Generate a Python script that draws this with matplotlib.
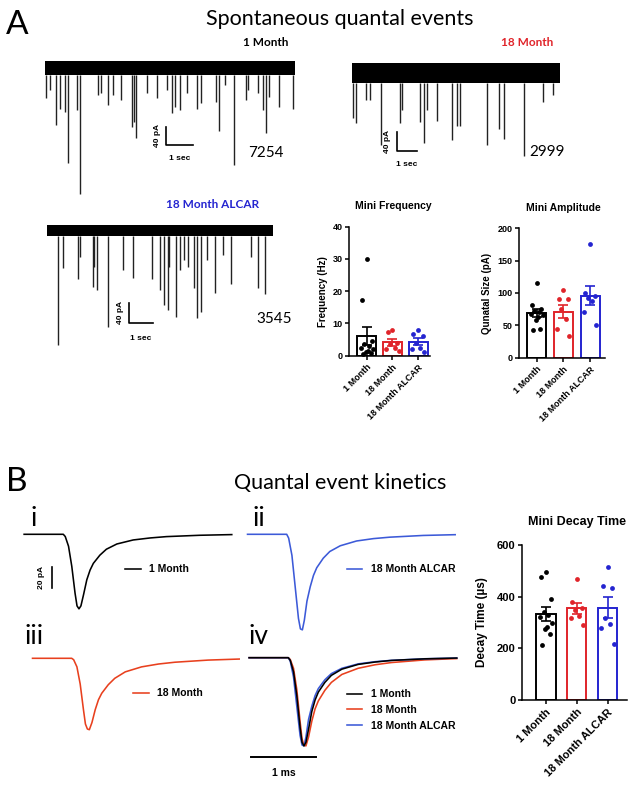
import numpy as np
import matplotlib
matplotlib.use('Agg')
import matplotlib.pyplot as plt

W, H = 643, 787
RED = '#e0242a'
BLUE = '#2424d0'
TRACE_RED = '#e8401e'
TRACE_BLUE = '#3c5ad8'
HEAD = 'Lato'
ARIAL = 'Liberation Sans'

GROUPS = ['1 Month', '18 Month', '18 Month ALCAR']
COLORS = ['black', RED, BLUE]

# spontaneous recordings: event times (s) and amplitudes (pA)
T1_TIMES = [0.04, 0.19, 0.43, 0.56, 0.74, 0.85, 1.2, 1.30, 1.99, 2.10, 2.35, 2.53, 2.83, 3.25,
            3.33, 3.42, 3.83, 4.19, 4.57, 4.75, 4.88, 5.06, 5.31, 5.69, 5.83, 6.42, 6.51, 6.73,
            7.07, 7.53, 7.62, 7.96, 8.15, 8.27, 8.40, 8.77, 9.29]
T1_AMPS = [67, 49, 127, 90, 97, 212, 93, 281, 60, 56, 82, 60, 71, 130, 119, 156, 56, 67, 49,
           101, 86, 93, 56, 90, 78, 75, 141, 38, 216, 71, 49, 56, 93, 145, 64, 86, 91]
T2_TIMES = [0.06, 0.18, 0.68, 0.87, 1.41, 2.33, 2.41, 3.30, 3.50, 3.63, 4.11, 4.87, 5.08, 5.24,
            6.57, 7.15, 7.38, 8.35, 9.26, 9.77]
T2_AMPS = [95, 104, 56, 56, 151, 104, 77, 102, 147, 77, 100, 140, 112, 112, 150, 118, 139,
           174, 60, 46]
T3_TIMES = [0.47, 0.71, 1.36, 1.43, 1.97, 2.03, 2.15, 2.64, 3.26, 3.72, 4.53, 4.86, 5.03, 5.22,
            5.26, 5.55, 5.72, 5.89, 6.08, 6.32, 6.44, 6.61, 6.87, 7.22, 7.58, 7.91, 8.77, 9.08,
            9.37]
T3_AMPS = [221, 73, 94, 51, 110, 70, 115, 186, 76, 92, 94, 115, 144, 154, 70, 167, 76, 57, 70,
           112, 170, 157, 57, 120, 47, 103, 52, 112, 123]

# summary values per cell
FREQ = [[30, 17.4, 4.5, 3.5, 3, 2.5, 2, 1.5, 1, 0.8, 0.5],
        [8.1, 7.3, 4, 3.5, 2.5, 2, 1.5],
        [8.1, 6.8, 6.2, 4, 2.5, 2, 1]]
AMPL = [[116, 82, 75, 72, 70, 68, 66, 63, 58, 44, 43],
        [104, 91, 91, 75, 60, 44, 34],
        [175, 100, 95, 92, 88, 71, 50]]
DECAY = [[497, 475, 390, 342, 330, 320, 300, 282, 275, 255, 212],
         [469, 380, 355, 348, 325, 319, 290],
         [514, 443, 432, 319, 294, 277, 218]]

# averaged mini waveforms: time (ms) and fraction of peak
T_MS = [-0.6, 0, 0.03, 0.08, 0.13, 0.18, 0.21, 0.24, 0.27, 0.31, 0.36, 0.41, 0.46, 0.56, 0.66,
        0.82, 1.07, 1.33, 1.58, 2.09, 2.58]
WAVE_1M = [0, 0, 0.03, 0.16, 0.43, 0.79, 0.96, 1.0, 0.96, 0.81, 0.61, 0.48, 0.39, 0.28, 0.2,
           0.13, 0.076, 0.049, 0.031, 0.013, 0.004]
WAVE_18M = [0, 0, 0.02, 0.12, 0.36, 0.72, 0.92, 0.99, 1.0, 0.9, 0.72, 0.58, 0.49, 0.37, 0.28,
            0.19, 0.12, 0.08, 0.055, 0.025, 0.01]
WAVE_ALCAR = [0, 0, 0.04, 0.22, 0.55, 0.88, 0.99, 1.0, 0.9, 0.7, 0.55, 0.43, 0.35, 0.25, 0.18,
              0.12, 0.07, 0.045, 0.03, 0.012, 0.004]
PEAK_PA = {'1M': 71, '18M': 68, 'ALCAR': 91, 'norm': 84}


def box(x0, y0, x1, y1):
    return [x0 / W, 1 - y1 / H, (x1 - x0) / W, (y1 - y0) / H]


def ftext(x, y, s, **kw):
    kw.setdefault('ha', 'center')
    kw.setdefault('va', 'center')
    fig.text(x / W, 1 - y / H, s, **kw)


fig = plt.figure(figsize=(6.43, 7.87), dpi=100)

# ---------- A: spontaneous traces ----------
def trace_ax(px, start, base, px_s, px_pa):
    x0, y0, x1, y1 = px
    ax = fig.add_axes(box(*px))
    ax.set_xlim((x0 - start) / px_s, (x1 - start) / px_s)
    ax.set_ylim(-(y1 - base) / px_pa, (base - y0) / px_pa)
    ax.axis('off')
    return ax


def draw_trace(ax, times, amps, t_end, noise):
    ax.fill_between([0, t_end], -noise, noise, color='black', lw=0)
    ax.vlines(times, -noise, -np.array(amps), color='#222222', lw=1.0)


def scalebar(ax, x, y, num, numxy, ylabx):
    ax.plot([x, x, x + 1], [y + 40, y, y], color='black', lw=1.2)
    ax.text(ylabx, y + 20, '40 pA', rotation=90, ha='center', va='center', fontsize=6,
            fontweight='bold', family=ARIAL)
    ax.text(x + 0.5, y - 29, '1 sec', ha='center', va='center', fontsize=6,
            fontweight='bold', family=ARIAL)
    ax.text(numxy[0], numxy[1], num, ha='center', va='center', fontsize=11, family=HEAD)


ax1 = trace_ax((40, 35, 300, 200), 45, 68, 26.7, 0.45)
draw_trace(ax1, T1_TIMES, T1_AMPS, 9.35, 16)
scalebar(ax1, 4.53, -171, '7254', (8.28, -188), 4.2)

ax2 = trace_ax((340, 35, 570, 200), 352, 73.3, 20.6, 0.475)
draw_trace(ax2, T2_TIMES, T2_AMPS, 10.1, 21)
scalebar(ax2, 2.17, -163, '2999', (9.47, -165), 1.72)

ax3 = trace_ax((40, 195, 300, 350), 46.7, 230.5, 23.3, 0.517)
draw_trace(ax3, T3_TIMES, T3_AMPS, 9.73, 10.6)
scalebar(ax3, 3.545, -179.5, '3545', (9.78, -172), 3.15)

ftext(6, 25, 'A', ha='left', fontsize=24, family=HEAD)
ftext(340, 19, 'Spontaneous quantal events', fontsize=15.5, family=HEAD)
ftext(266, 42, '1 Month', fontsize=8.5, fontweight='bold', family=HEAD)
ftext(527, 42, '18 Month', fontsize=8.5, fontweight='bold', family=HEAD, color=RED)
ftext(213, 204, '18 Month ALCAR', fontsize=8.5, fontweight='bold', family=HEAD, color=BLUE)


# ---------- bar charts ----------
def bar_panel(px, data, width, xlim, ylim, yticks, ylabel, ylab_x, fs):
    ax = fig.add_axes(box(*px))
    spread = [0, -0.25, 0.25, -0.12, 0.12, -0.32, 0.32, 0.05, -0.05, 0.2, -0.2]
    for i, vals in enumerate(data):
        vals = np.array(vals, dtype=float)
        m = vals.mean()
        sem = vals.std(ddof=1) / np.sqrt(len(vals))
        c = COLORS[i]
        ax.bar(i, m, width, color='white', edgecolor=c, lw=1.4, zorder=1)
        ax.errorbar(i, m, yerr=sem, color=c, capsize=3.5, lw=1.2, capthick=1.2, zorder=2)
        offs = np.array([spread[k % len(spread)] for k in range(len(vals))]) * width
        ax.scatter(i + offs, vals, s=12, color=c, lw=0, zorder=3)
    ax.set_xlim(*xlim)
    ax.set_ylim(*ylim)
    ax.set_yticks(yticks)
    ax.set_xticks(range(3))
    ax.set_xticklabels(GROUPS, rotation=45, ha='right', rotation_mode='anchor')
    for s in ['top', 'right']:
        ax.spines[s].set_visible(False)
    for s in ['left', 'bottom']:
        ax.spines[s].set_linewidth(1.1)
    ax.tick_params(width=1.1, length=3, labelsize=fs, pad=2)
    for lab in ax.get_xticklabels() + ax.get_yticklabels():
        lab.set_fontweight('bold')
        lab.set_family(ARIAL)
    ax.set_ylabel(ylabel, fontsize=fs + 0.5, fontweight='bold', family=ARIAL)
    ax.yaxis.set_label_coords(ylab_x, 0.5)
    return ax


bar_panel((349.3, 226.7, 430, 355.7), FREQ, 0.74, (-0.68, 2.46), (0, 40), [0, 10, 20, 30, 40],
          'Frequency (Hz)', -0.27, 6.5)
bar_panel((519.3, 228.3, 605, 357.7), AMPL, 0.71, (-0.65, 2.56), (0, 200),
          [0, 50, 100, 150, 200], 'Qunatal Size (pA)', -0.32, 6.5)
bar_panel((522.3, 545, 627, 700), DECAY, 0.62, (-0.77, 2.63), (0, 600), [0, 200, 400, 600],
          'Decay Time (\u00b5s)', -0.33, 8)

ftext(393, 206, 'Mini Frequency', fontsize=7.5, fontweight='bold', family=ARIAL)
ftext(563, 208, 'Mini Amplitude', fontsize=7.5, fontweight='bold', family=ARIAL)
ftext(577, 522, 'Mini Decay Time', fontsize=9, fontweight='bold', family=ARIAL)

# ---------- B: kinetics ----------
PX_MS, PX_PA = 65.3, 1.05


def kin_ax(px, onset, base):
    x0, y0, x1, y1 = px
    ax = fig.add_axes(box(*px))
    ax.set_xlim((x0 - onset) / PX_MS, (x1 - onset) / PX_MS)
    ax.set_ylim(-(y1 - base) / PX_PA, (base - y0) / PX_PA)
    ax.axis('off')
    return ax


def wave(frac, peak):
    return -np.array(frac) * peak


LEG = dict(loc='center left', frameon=False, handlelength=1.5, handletextpad=0.8,
           borderpad=0, borderaxespad=0, labelspacing=0.55,
           prop=dict(family=ARIAL, weight='bold', size=7.5))
LW = 1.15

k1 = kin_ax((20, 525, 240, 620), 63.3, 534.3)
k1.plot(T_MS, wave(WAVE_1M, PEAK_PA['1M']), color='black', lw=LW, label='1 Month')
k1.legend(bbox_to_anchor=(0.477, 0.534), **LEG)
k1.plot([-0.178, -0.178], [-51.4, -31.4], color='black', lw=1.2)
k1.text(-0.33, -41.4, '20 pA', rotation=90, ha='center', va='center', fontsize=6,
        fontweight='bold', family=ARIAL)

k2 = kin_ax((240, 525, 460, 640), 286.7, 534.3)
k2.plot(T_MS, wave(WAVE_ALCAR, PEAK_PA['ALCAR']), color=TRACE_BLUE, lw=LW,
        label='18 Month ALCAR')
k2.legend(bbox_to_anchor=(0.485, 0.615), **LEG)

k3 = kin_ax((20, 645, 240, 745), 71.7, 658.3)
k3.plot(T_MS, wave(WAVE_18M, PEAK_PA['18M']), color=TRACE_RED, lw=LW, label='18 Month')
k3.legend(bbox_to_anchor=(0.514, 0.517), **LEG)

k4 = kin_ax((240, 645, 460, 785), 288.3, 657.7)
lr, = k4.plot(T_MS, wave(WAVE_18M, PEAK_PA['norm']), color=TRACE_RED, lw=LW)
lb, = k4.plot(T_MS, wave(WAVE_ALCAR, PEAK_PA['norm']), color=TRACE_BLUE, lw=LW)
lk, = k4.plot(T_MS, wave(WAVE_1M, PEAK_PA['norm']), color='black', lw=LW)
k4.legend([lk, lr, lb], GROUPS, bbox_to_anchor=(0.485, 0.536), **LEG)
k4.plot([-0.576, 0.424], [-94.3, -94.3], color='black', lw=1.4)
k4.text(-0.076, -110, '1 ms', ha='center', va='center', fontsize=7.5, fontweight='bold',
        family=ARIAL)

ftext(6, 482, 'B', ha='left', fontsize=24, family=HEAD)
ftext(340, 483, 'Quantal event kinetics', fontsize=15.5, family=HEAD)
ftext(34, 518, 'i', fontsize=19, family=HEAD)
ftext(259, 518, 'ii', fontsize=19, family=HEAD)
ftext(34, 637, 'iii', fontsize=19, family=HEAD)
ftext(258, 637, 'iv', fontsize=19, family=HEAD)

fig.savefig('out.png', dpi=100)
